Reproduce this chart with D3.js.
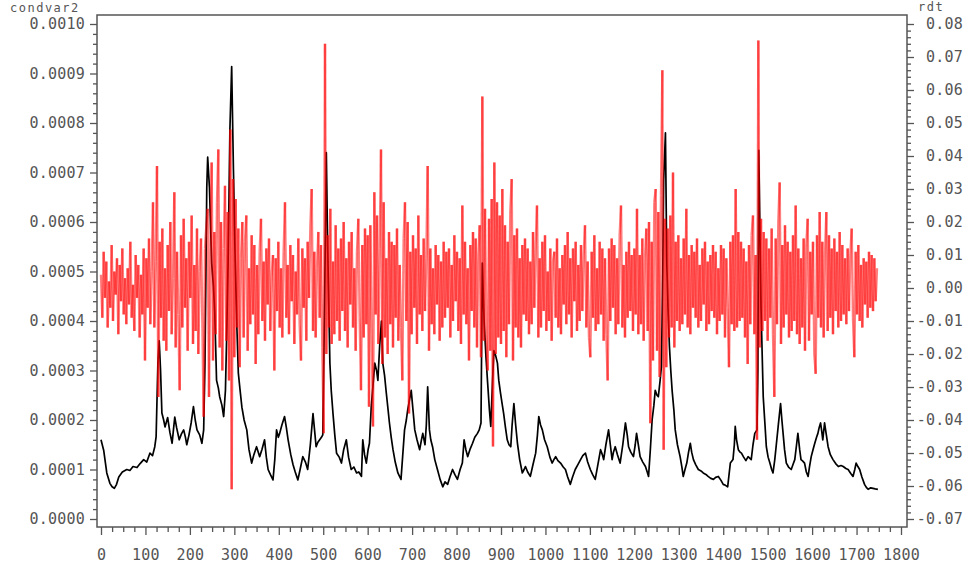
<!DOCTYPE html>
<meta charset="utf-8">
<style>
    html, body { margin: 0; padding: 0; background: #fff; }
    svg { display: block; }
    .axis text { font-family: "DejaVu Sans Mono", monospace; font-size: 15px; fill: #555; letter-spacing: 0.2px; }
    .axis path, .axis line { stroke: #555; }
    .lbl { font-family: "DejaVu Sans Mono", monospace; font-size: 12px; fill: #555; letter-spacing: 1.5px; }
</style>
<body>
<div id="chart"></div>
<script src="https://d3js.org/d3.v7.min.js"></script>
<script>
    // tick values of the three axes
    const xTicks = d3.range(0, 1801, 100);
    const condTicks = [0, 0.0001, 0.0002, 0.0003, 0.0004, 0.0005, 0.0006, 0.0007, 0.0008, 0.0009, 0.0010];
    const rdtTicks = [-0.07, -0.06, -0.05, -0.04, -0.03, -0.02, -0.01, 0, 0.01, 0.02, 0.03, 0.04, 0.05, 0.06, 0.07, 0.08];

    // condvar2: [t, value in units of 1e-6]
    const condvar2 = [
        [0,160],[6,139],[13,93],[20,72],[25,65],[30,62],[35,70],[40,85],[48,95],[58,100],[65,98],[72,106],[81,104],[88,112],[96,120],
        [103,115],[110,133],[116,128],[121,146],[124,166],[128,315],[131,360],[134,300],[137,214],[141,200],[144,186],[150,205],[155,175],
        [160,153],[163,180],[166,206],[170,185],[176,160],[181,172],[186,180],[190,165],[193,150],[198,170],[203,195],[208,227],[212,200],
        [216,180],[222,170],[227,153],[231,180],[234,315],[238,670],[240,731],[244,670],[249,517],[253,470],[256,416],[260,280],[264,265],
        [267,247],[272,230],[276,207],[280,260],[283,380],[286,520],[290,786],[294,914],[298,705],[302,520],[306,380],[309,295],[313,260],
        [317,226],[322,200],[328,180],[333,140],[339,113],[344,130],[350,146],[357,126],[362,140],[368,160],[372,125],[376,100],[381,90],
        [387,79],[391,120],[395,180],[399,165],[402,173],[407,190],[413,207],[417,185],[421,160],[427,130],[432,110],[437,95],[443,79],
        [448,100],[454,126],[460,115],[465,100],[471,150],[477,213],[481,175],[484,146],[488,155],[492,160],[496,165],[499,170],[503,429],
        [507,740],[510,550],[515,315],[518,260],[522,213],[526,170],[530,133],[536,125],[541,113],[546,140],[552,160],[557,125],[563,100],
        [569,105],[575,93],[580,95],[586,86],[589,160],[593,130],[597,113],[601,140],[604,153],[608,226],[612,270],[616,315],[620,300],
        [623,280],[627,350],[631,400],[634,315],[638,290],[642,254],[646,220],[649,194],[653,165],[657,140],[662,115],[668,93],[675,80],
        [679,130],[683,180],[687,200],[690,220],[694,240],[698,260],[702,220],[706,180],[711,160],[717,140],[721,160],[724,173],[729,150],
        [732,190],[735,267],[739,180],[742,160],[746,146],[751,120],[757,100],[763,80],[769,65],[774,75],[780,70],[785,85],[791,100],
        [796,90],[802,80],[808,100],[813,113],[817,160],[821,140],[825,126],[830,140],[836,153],[841,165],[847,173],[851,180],[855,194],
        [858,517],[862,400],[866,330],[870,274],[874,220],[877,187],[881,280],[884,340],[888,330],[892,315],[895,280],[899,254],[903,230],
        [906,213],[910,185],[914,160],[918,150],[922,146],[925,190],[929,233],[933,190],[937,153],[942,120],[948,93],[952,100],[955,106],
        [960,95],[966,86],[972,110],[978,133],[982,170],[985,207],[989,190],[993,180],[998,160],[1004,146],[1010,125],[1015,113],[1019,120],
        [1023,126],[1028,118],[1034,113],[1040,105],[1045,100],[1050,85],[1056,70],[1061,85],[1067,100],[1073,110],[1079,120],[1084,128],
        [1090,133],[1095,115],[1101,100],[1106,90],[1112,80],[1118,110],[1124,140],[1128,130],[1131,120],[1136,150],[1142,180],[1146,150],
        [1150,120],[1153,135],[1157,146],[1162,130],[1168,113],[1174,150],[1180,194],[1184,170],[1187,146],[1192,135],[1198,126],[1202,150],
        [1205,173],[1209,150],[1213,126],[1219,115],[1225,106],[1229,95],[1232,86],[1236,140],[1240,200],[1244,230],[1247,260],[1251,250],
        [1254,247],[1258,280],[1261,308],[1264,500],[1266,685],[1270,780],[1273,517],[1276,420],[1279,348],[1282,300],[1285,260],[1289,220],
        [1292,180],[1297,150],[1303,126],[1307,105],[1310,86],[1314,100],[1318,113],[1322,135],[1326,153],[1329,135],[1333,120],[1338,110],
        [1344,100],[1350,97],[1355,93],[1361,90],[1366,86],[1372,82],[1378,80],[1383,84],[1389,86],[1395,78],[1400,70],[1405,68],[1410,65],
        [1416,113],[1422,120],[1425,150],[1427,187],[1430,160],[1434,140],[1438,135],[1441,133],[1446,125],[1451,118],[1456,126],[1463,120],
        [1467,150],[1471,173],[1476,180],[1478,300],[1480,745],[1483,560],[1485,430],[1488,320],[1490,247],[1494,190],[1497,146],[1501,125],
        [1505,113],[1509,100],[1512,93],[1516,120],[1519,146],[1524,190],[1529,233],[1532,200],[1534,180],[1538,140],[1542,113],[1547,105],
        [1553,100],[1557,110],[1561,120],[1565,150],[1568,173],[1572,140],[1575,120],[1579,117],[1583,113],[1587,95],[1591,86],[1594,105],
        [1598,126],[1602,140],[1606,153],[1610,165],[1613,173],[1616,185],[1619,194],[1622,175],[1624,160],[1628,194],[1632,170],[1636,146],
        [1641,130],[1647,120],[1653,112],[1659,106],[1665,108],[1670,106],[1676,102],[1681,100],[1687,92],[1692,86],[1696,100],[1699,113],
        [1703,106],[1707,100],[1712,85],[1718,70],[1722,64],[1726,60],[1732,63],[1737,62],[1742,61],[1748,60]
    ];

    // rdt every 3 steps starting at t=0, in units of 0.001
    const rdtStep = 3;
    const rdt = [
        4,-9,11,-3,8,-12,2,-6,13,-10,5,-2,9,-14,7,-4,12,-8,3,-11,
        6,-5,14,-9,1,-13,10,-3,7,-15,4,-8,12,-22,9,-6,15,-11,5,26,
        -12,8,37,-33,14,-9,18,-16,6,-19,13,-7,20,-14,3,29,-18,11,-8,-31,
        16,-12,21,-6,9,-19,14,-3,22,-17,7,-13,18,-20,5,15,-10,-39,12,19,
        24,-33,10,38,-22,17,-14,26,42,-18,20,-25,12,31,-16,23,-28,48,-61,33,
        -21,27,-12,18,-24,9,20,-15,14,22,-19,6,-11,16,-8,13,-23,7,-14,11,
        21,-10,8,-16,12,-5,15,-13,4,10,-25,9,-7,14,-12,6,-15,11,26,-9,
        7,-14,13,-4,10,-17,5,-8,15,-11,-22,12,-6,9,-16,14,-3,18,30,-13,
        11,-15,6,17,-9,13,-18,-44,74,-20,16,-12,24,-17,8,-14,19,-10,12,-16,
        15,-7,20,-13,9,-18,14,-5,17,-12,6,-19,11,21,-9,-31,13,-15,18,-11,
        16,-36,19,-14,-42,29,-8,22,-17,12,42,-23,26,-15,9,-20,17,-11,14,-18,
        13,-9,18,-16,7,-12,-28,15,26,-10,20,-38,11,-14,16,-6,12,-17,22,-8,
        10,-13,15,-7,9,37,-19,12,-11,6,-14,13,-5,10,-16,8,-12,14,-9,11,
        -6,12,-15,7,-10,16,-4,11,-13,9,-17,25,-8,14,-11,6,-22,13,-7,17,
        -12,15,-18,10,19,-21,58,-16,24,-14,-25,21,-19,27,-48,38,-20,26,-15,22,
        -17,30,-13,19,-21,14,-11,23,33,-22,16,-12,18,-15,9,-18,13,-8,15,-10,
        12,-14,8,-11,17,-6,13,25,-15,9,-12,14,-7,16,-13,5,-10,12,-16,8,
        11,-9,15,-12,6,-14,10,-5,13,-11,17,-8,9,-15,12,-4,14,-13,7,-10,
        13,-7,10,19,-12,8,-15,-21,11,-9,16,-13,6,-11,14,-8,12,-16,9,-14,
        -28,12,-10,15,-6,13,-14,9,-11,16,25,-12,7,-15,11,-9,14,-7,10,-13,
        12,-8,24,-14,10,-11,15,-16,9,18,-13,20,-41,14,-22,26,30,-19,23,-27,
        28,66,-49,21,-24,18,-15,22,-12,35,-18,14,-10,16,-13,9,-11,15,-8,24,
        -12,10,-14,13,-6,11,-9,15,-12,7,-10,12,-5,14,-13,8,-11,10,-7,13,
        -9,11,-14,6,-10,13,-8,12,-15,9,-6,-24,14,-11,16,-13,30,-12,17,-10,
        14,-9,12,-15,8,-23,13,-11,16,22,-14,10,-46,75,-18,21,-13,17,-10,15,
        -16,12,-9,18,-14,-33,15,-11,20,32,-17,13,-12,19,-8,14,-15,11,-13,16,
        -10,25,-14,12,-17,9,-12,15,-19,13,21,-16,11,-8,14,-20,-26,16,-9,23,
        -12,14,-15,10,23,-13,16,-9,12,-14,15,-7,11,-12,17,-10,13,-8,9,-11,
        12,-7,10,18,-9,-21,11,-8,13,-10,7,-12,9,-5,8,-9,11,-6,10,-7,
        9,-4,6
    ];

    const width = 967, height = 569;
    const frame = {left: 97, right: 907, top: 15, bottom: 527};

    const svg = d3.select("#chart").append("svg")
        .attr("width", width)
        .attr("height", height);

    const x = d3.scaleLinear().domain([0, 1800]).range([101, 901]);
    const yCond = d3.scaleLinear().domain([0, 0.001]).range([519, 24]);
    const yRdt = d3.scaleLinear().domain([-0.07, 0.08]).range([519, 24]);

    const loc = d3.formatLocale({decimal: ".", thousands: ",", grouping: [3], currency: ["", ""], minus: "-"});

    // black line first, red on top
    const condLine = d3.line()
        .x(d => x(d[0]))
        .y(d => yCond(d[1] * 1e-6));

    svg.append("path")
        .datum(condvar2)
        .attr("fill", "none")
        .attr("stroke", "#000")
        .attr("stroke-width", 1.7)
        .attr("stroke-linejoin", "round")
        .attr("d", condLine);

    // red drawn as separate segments so overlaps build up to solid red
    const rdtPts = rdt.map((v, i) => [x(i * rdtStep), yRdt(v * 0.001)]);

    svg.append("g")
        .selectAll("line")
        .data(d3.pairs(rdtPts))
        .join("line")
        .attr("x1", d => d[0][0])
        .attr("y1", d => d[0][1])
        .attr("x2", d => d[1][0])
        .attr("y2", d => d[1][1])
        .attr("stroke", "#ff0000")
        .attr("stroke-opacity", 0.5)
        .attr("stroke-width", 2.4);

    // frame
    svg.append("rect")
        .attr("x", frame.left)
        .attr("y", frame.top)
        .attr("width", frame.right - frame.left)
        .attr("height", frame.bottom - frame.top)
        .attr("fill", "none")
        .attr("stroke", "#555")
        .attr("stroke-width", 1.5);

    // minor ticks
    const minorX = d3.range(0, 1801, 25).filter(v => v % 100 !== 0);
    const minorCond = d3.range(0, 51).map(i => i * 0.00002).filter((v, i) => i % 5 !== 0);
    const minorRdt = d3.range(0, 76).map(i => -0.07 + i * 0.002).filter((v, i) => i % 5 !== 0);

    function addAxis(axis, tx, ty) {
        const g = svg.append("g")
            .attr("class", "axis")
            .attr("transform", `translate(${tx},${ty})`)
            .call(axis);
        g.select(".domain").remove();
        g.selectAll("line").attr("stroke-width", 1.3);
        return g;
    }

    addAxis(d3.axisBottom(x).tickValues(minorX).tickSize(5).tickFormat(""), 0, frame.bottom);
    addAxis(d3.axisLeft(yCond).tickValues(minorCond).tickSize(4).tickFormat(""), frame.left, 0);
    addAxis(d3.axisRight(yRdt).tickValues(minorRdt).tickSize(4).tickFormat(""), frame.right, 0);

    addAxis(d3.axisBottom(x).tickValues(xTicks).tickSize(8).tickPadding(14).tickFormat(d3.format("d")), 0, frame.bottom);
    addAxis(d3.axisLeft(yCond).tickValues(condTicks).tickSize(7).tickPadding(5).tickFormat(loc.format(".4f")), frame.left, 0);
    addAxis(d3.axisRight(yRdt).tickValues(rdtTicks).tickSize(7).tickPadding(10).tickFormat(loc.format(".2f")), frame.right, 0)
        .selectAll("text")
        .attr("text-anchor", "end")
        .attr("x", 56);

    // variable names above the axes
    svg.append("text").attr("class", "lbl").attr("x", 10).attr("y", 12).text("condvar2");
    svg.append("text").attr("class", "lbl").attr("x", 918).attr("y", 11).text("rdt");
</script>
</body>
